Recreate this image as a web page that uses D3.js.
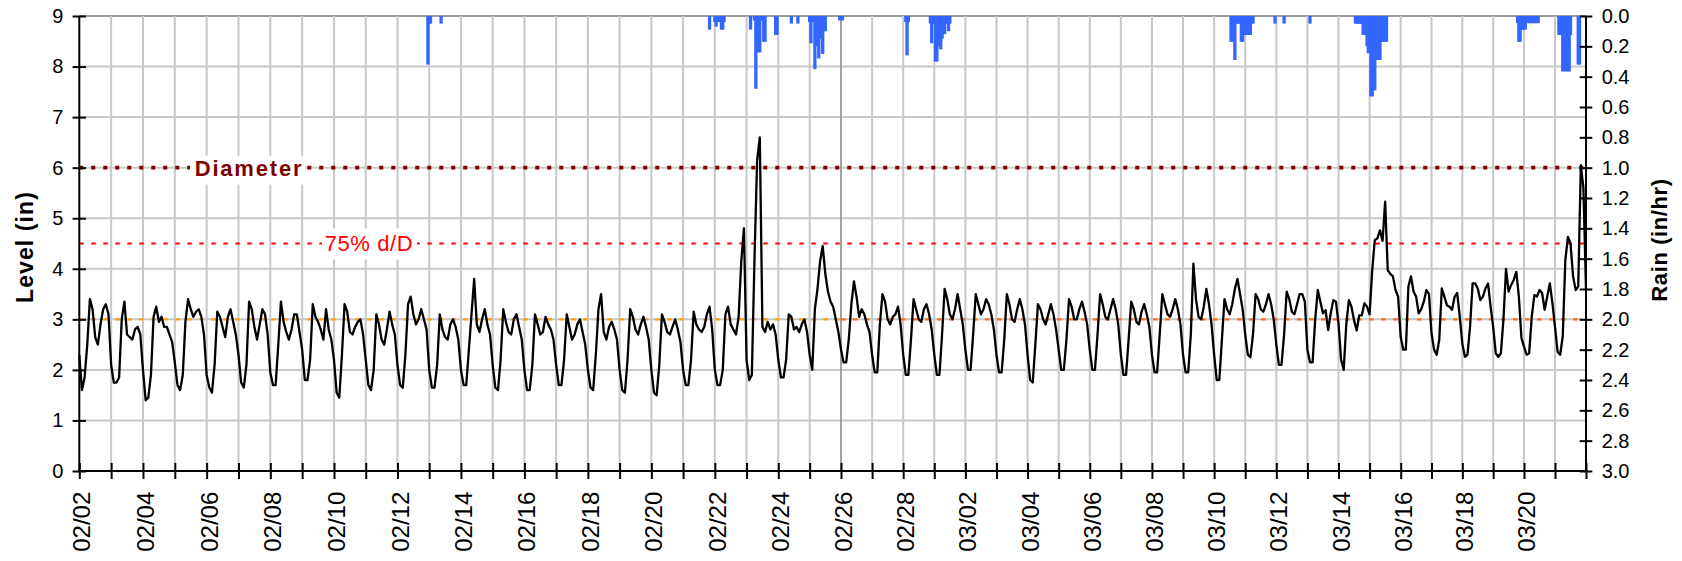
<!DOCTYPE html>
<html><head><meta charset="utf-8">
<script src="https://cdn.jsdelivr.net/npm/d3@7"></script>
<style>
body{margin:0;background:#fff;}
svg{display:block;font-family:"Liberation Sans",Arial,sans-serif;}
</style></head><body>
<svg id="chart" width="1682" height="561"></svg>
<script>
// ---------------- DATA ----------------
const levelStart = "2023-02-02 00";   // first reading
const levelStepHours = 2;              // readings every 2 hours
const levelValues = [
 /*02/02*/ 2.3,1.6,1.85,2.5,3.4,3.2,2.65,2.5,2.9,3.2,3.3,3.1,
 /*02/03*/ 2.1,1.75,1.75,1.85,3.0,3.35,2.7,2.65,2.6,2.8,2.85,2.7,
 /*02/04*/ 2.0,1.4,1.45,1.9,3.05,3.25,2.95,3.05,2.85,2.85,2.7,2.55,
 /*02/05*/ 2.15,1.7,1.6,1.9,2.95,3.4,3.2,3.05,3.15,3.2,3.05,2.7,
 /*02/06*/ 1.9,1.65,1.55,2.1,3.15,3.05,2.85,2.65,3.05,3.2,2.95,2.7,
 /*02/07*/ 2.3,1.75,1.65,2.1,3.35,3.2,2.85,2.6,2.9,3.2,3.1,2.7,
 /*02/08*/ 1.95,1.7,1.7,2.5,3.35,2.95,2.75,2.6,2.8,3.1,3.1,2.75,
 /*02/09*/ 2.4,1.8,1.8,2.2,3.3,3.05,2.95,2.8,2.6,3.2,2.8,2.6,
 /*02/10*/ 2.2,1.55,1.45,2.3,3.3,3.15,2.75,2.7,2.85,2.95,3.0,2.7,
 /*02/11*/ 2.2,1.7,1.6,2.0,3.1,2.9,2.6,2.5,2.8,3.15,2.9,2.7,
 /*02/12*/ 2.1,1.7,1.65,2.3,3.3,3.45,3.1,2.9,3.0,3.2,3.0,2.8,
 /*02/13*/ 2.0,1.65,1.65,2.1,3.1,2.8,2.65,2.6,2.9,3.0,2.85,2.6,
 /*02/14*/ 2.0,1.7,1.7,2.4,3.1,3.8,2.9,2.75,3.0,3.2,2.9,2.7,
 /*02/15*/ 2.1,1.65,1.6,2.2,3.2,2.95,2.75,2.7,3.0,3.1,2.85,2.6,
 /*02/16*/ 2.0,1.6,1.6,2.1,3.1,2.9,2.7,2.75,3.05,2.9,2.8,2.6,
 /*02/17*/ 2.1,1.7,1.7,2.2,3.1,2.85,2.6,2.7,2.9,3.0,2.75,2.5,
 /*02/18*/ 2.0,1.65,1.6,2.3,3.2,3.5,2.75,2.6,2.85,2.95,2.8,2.6,
 /*02/19*/ 2.0,1.6,1.55,2.2,3.2,3.05,2.8,2.7,2.9,3.05,2.85,2.6,
 /*02/20*/ 2.0,1.55,1.5,2.1,3.1,2.95,2.75,2.7,2.85,3.0,2.8,2.55,
 /*02/21*/ 2.0,1.7,1.7,2.2,3.15,2.9,2.8,2.75,2.85,3.1,3.25,2.8,
 /*02/22*/ 2.0,1.7,1.7,2.0,3.1,3.25,2.9,2.8,2.7,3.05,4.15,4.8,
 /*02/23*/ 2.2,1.8,1.9,4.2,6.15,6.6,2.85,2.75,2.95,2.8,2.9,2.7,
 /*02/24*/ 2.2,1.85,1.85,2.2,3.1,3.05,2.8,2.85,2.75,2.9,3.0,2.75,
 /*02/25*/ 2.3,2.0,3.2,3.6,4.15,4.45,3.9,3.55,3.35,3.25,3.0,2.75,
 /*02/26*/ 2.4,2.15,2.15,2.6,3.3,3.75,3.45,3.05,3.2,3.1,2.9,2.75,
 /*02/27*/ 2.3,1.95,1.95,2.9,3.5,3.35,3.0,2.9,3.05,3.1,3.25,2.9,
 /*02/28*/ 2.3,1.9,1.9,2.6,3.4,3.2,3.0,2.95,3.2,3.3,3.1,2.8,
 /*03/01*/ 2.3,1.9,1.9,2.7,3.6,3.4,3.1,3.0,3.2,3.5,3.2,2.9,
 /*03/02*/ 2.4,2.0,2.0,2.7,3.5,3.3,3.1,3.2,3.4,3.3,3.1,2.8,
 /*03/03*/ 2.3,1.95,1.95,2.6,3.5,3.3,3.0,2.95,3.2,3.4,3.2,2.9,
 /*03/04*/ 2.3,1.8,1.75,2.5,3.3,3.2,3.0,2.9,3.1,3.3,3.1,2.8,
 /*03/05*/ 2.4,2.0,2.0,2.6,3.4,3.25,3.0,3.0,3.2,3.35,3.15,2.9,
 /*03/06*/ 2.4,2.0,2.0,2.7,3.5,3.3,3.05,3.0,3.2,3.4,3.2,2.9,
 /*03/07*/ 2.3,1.9,1.9,2.6,3.35,3.2,2.95,2.9,3.15,3.3,3.1,2.85,
 /*03/08*/ 2.3,1.95,1.95,2.7,3.5,3.3,3.1,3.05,3.2,3.4,3.2,2.9,
 /*03/09*/ 2.3,1.95,1.95,2.7,4.1,3.4,3.05,3.0,3.25,3.6,3.3,2.9,
 /*03/10*/ 2.3,1.8,1.8,2.6,3.4,3.2,3.1,3.3,3.6,3.8,3.5,3.2,
 /*03/11*/ 2.7,2.3,2.25,2.7,3.5,3.4,3.2,3.15,3.3,3.5,3.3,3.0,
 /*03/12*/ 2.5,2.1,2.1,2.7,3.55,3.4,3.15,3.1,3.3,3.5,3.5,3.35,
 /*03/13*/ 2.4,2.15,2.15,3.0,3.58,3.35,3.12,3.18,2.79,3.12,3.38,3.35,
 /*03/14*/ 2.92,2.2,2.0,2.9,3.38,3.25,2.98,2.78,3.08,3.08,3.32,3.25,
 /*03/15*/ 3.1,3.97,4.57,4.6,4.76,4.55,5.33,3.97,3.9,3.85,3.58,3.45,
 /*03/16*/ 2.65,2.4,2.4,3.65,3.85,3.55,3.45,3.12,3.2,3.35,3.58,3.5,
 /*03/17*/ 2.72,2.4,2.3,2.59,3.61,3.45,3.28,3.25,3.19,3.45,3.52,3.05,
 /*03/18*/ 2.52,2.26,2.3,2.85,3.71,3.71,3.61,3.38,3.45,3.61,3.71,3.25,
 /*03/19*/ 2.85,2.33,2.26,2.33,3.0,4.0,3.55,3.68,3.78,3.94,3.45,2.63,
 /*03/20*/ 2.46,2.3,2.33,3.05,3.48,3.45,3.58,3.52,3.19,3.45,3.71,3.32,
 /*03/21*/ 2.85,2.36,2.3,2.66,4.17,4.63,4.5,3.85,3.58,3.65,6.05,5.6,
 /*03/22*/ 3.6
];

const rainTimes = [
 "2023-02-12 23","2023-02-13 00","2023-02-13 01","2023-02-13 09",
 "2023-02-21 20","2023-02-22 00","2023-02-22 01","2023-02-22 02","2023-02-22 03","2023-02-22 04","2023-02-22 05","2023-02-22 06","2023-02-22 07",
 "2023-02-23 03","2023-02-23 06","2023-02-23 07","2023-02-23 08","2023-02-23 09","2023-02-23 10","2023-02-23 11","2023-02-23 12","2023-02-23 13","2023-02-23 14","2023-02-23 22","2023-02-23 23",
 "2023-02-24 10","2023-02-24 15",
 "2023-02-25 00","2023-02-25 01","2023-02-25 02","2023-02-25 03","2023-02-25 04","2023-02-25 05","2023-02-25 06","2023-02-25 07","2023-02-25 08","2023-02-25 09","2023-02-25 10","2023-02-25 11","2023-02-25 12","2023-02-25 23","2023-02-26 01",
 "2023-02-28 02","2023-02-28 03","2023-02-28 04",
 "2023-02-28 21","2023-02-28 22","2023-02-28 23","2023-03-01 00","2023-03-01 01","2023-03-01 02","2023-03-01 03","2023-03-01 04","2023-03-01 05","2023-03-01 06","2023-03-01 07","2023-03-01 08","2023-03-01 09","2023-03-01 10","2023-03-01 11","2023-03-01 12",
 "2023-03-10 13","2023-03-10 14","2023-03-10 15","2023-03-10 16","2023-03-10 17","2023-03-10 18","2023-03-10 19","2023-03-10 20","2023-03-10 21","2023-03-10 22","2023-03-10 23","2023-03-11 00","2023-03-11 01","2023-03-11 02","2023-03-11 03","2023-03-11 04","2023-03-11 05","2023-03-11 06",
 "2023-03-11 23","2023-03-12 06","2023-03-13 02",
 "2023-03-14 13","2023-03-14 14","2023-03-14 15","2023-03-14 16","2023-03-14 17","2023-03-14 18","2023-03-14 19","2023-03-14 20","2023-03-14 21","2023-03-14 22","2023-03-14 23","2023-03-15 00","2023-03-15 01","2023-03-15 02","2023-03-15 03","2023-03-15 04","2023-03-15 05","2023-03-15 06","2023-03-15 07","2023-03-15 08","2023-03-15 09","2023-03-15 10","2023-03-15 11","2023-03-15 12","2023-03-15 13",
 "2023-03-19 19","2023-03-19 20","2023-03-19 21","2023-03-19 22","2023-03-19 23","2023-03-20 00","2023-03-20 01","2023-03-20 02","2023-03-20 03","2023-03-20 04","2023-03-20 05","2023-03-20 06","2023-03-20 07","2023-03-20 08","2023-03-20 09","2023-03-20 10","2023-03-20 11",
 "2023-03-21 03","2023-03-21 04","2023-03-21 05","2023-03-21 06","2023-03-21 07","2023-03-21 08","2023-03-21 09","2023-03-21 10","2023-03-21 11","2023-03-21 12","2023-03-21 18","2023-03-21 19"
];
const rainValues = [
 0.32,0.05,0.05,0.05,
 0.09,0.04,0.07,0.04,0.04,0.04,0.09,0.09,0.04,
 0.09,0.03,0.48,0.03,0.24,0.24,0.03,0.03,0.17,0.17,0.125,0.125,
 0.05,0.05,
 0.04,0.18,0.04,0.04,0.35,0.2,0.04,0.28,0.15,0.04,0.25,0.1,0.1,0.03,0.03,
 0.04,0.26,0.04,
 0.05,0.18,0.05,0.05,0.3,0.3,0.2,0.05,0.22,0.15,0.05,0.12,0.05,0.05,0.1,0.05,
 0.17,0.17,0.05,0.29,0.05,0.05,0.05,0.05,0.17,0.17,0.05,0.125,0.125,0.125,0.125,0.125,0.05,0.05,
 0.05,0.05,0.05,
 0.05,0.05,0.05,0.05,0.05,0.05,0.125,0.125,0.125,0.2,0.245,0.245,0.53,0.53,0.49,0.49,0.29,0.29,0.29,0.29,0.17,0.17,0.17,0.17,0.17,
 0.047,0.17,0.17,0.09,0.09,0.09,0.09,0.047,0.047,0.047,0.047,0.047,0.047,0.047,0.047,0.047,0.047,
 0.125,0.125,0.125,0.365,0.365,0.34,0.365,0.365,0.365,0.125,0.32,0.32
];

const levelTicks = [0,1,2,3,4,5,6,7,8,9];
const rainTicks = [0.0,0.2,0.4,0.6,0.8,1.0,1.2,1.4,1.6,1.8,2.0,2.2,2.4,2.6,2.8,3.0];
const xLabelDates = ["2023-02-02","2023-02-04","2023-02-06","2023-02-08","2023-02-10","2023-02-12","2023-02-14","2023-02-16","2023-02-18","2023-02-20","2023-02-22","2023-02-24","2023-02-26","2023-02-28","2023-03-02","2023-03-04","2023-03-06","2023-03-08","2023-03-10","2023-03-12","2023-03-14","2023-03-16","2023-03-18","2023-03-20"];
const xLabels = ["02/02","02/04","02/06","02/08","02/10","02/12","02/14","02/16","02/18","02/20","02/22","02/24","02/26","02/28","03/02","03/04","03/06","03/08","03/10","03/12","03/14","03/16","03/18","03/20"];
const refLevelNames = ["Diameter","75% d/D","Base"];
const refLevelValues = [6.0, 4.5, 3.0];
const baseSegmentDates = ["2023-02-02","2023-02-26","2023-03-22"];

// ---------------- CHART ----------------
const parseH = d3.utcParse("%Y-%m-%d %H");
const parseD = d3.utcParse("%Y-%m-%d");
const svg = d3.select("#chart");

const xAnchorDates = ["2023-02-02","2023-02-10","2023-02-24","2023-02-26","2023-03-16","2023-03-20","2023-03-22"].map(parseD);
const x = d3.scaleUtc().domain(xAnchorDates).range([79.3,334,778.3,841,1400.7,1524,1586]);
const y = d3.scaleLinear().domain([0,9]).range([471,16]);
const yr = d3.scaleLinear().domain([0,3]).range([16,471]);
const L = 79.3, R = 1586, T = 16, B = 471;

const t0 = parseH(levelStart);
const levelData = levelValues.map((v,i)=>({t:new Date(+t0 + i*levelStepHours*3600e3), v}));
const rainData = rainTimes.map((s,i)=>({t:parseH(s), v:rainValues[i]}));

const days = d3.utcDay.range(parseD("2023-02-02"), new Date(+parseD("2023-03-22")+1));
const darkDay = +parseD("2023-02-26");

// gridlines
const grid = svg.append("g");
grid.selectAll("line.h").data(levelTicks.filter(d=>d>0)).join("line")
  .attr("x1",L).attr("x2",R).attr("y1",d=>y(d)).attr("y2",d=>y(d))
  .attr("stroke",d=>d===9?"#9a9a9a":"#c8c8c8").attr("stroke-width",2);
grid.selectAll("line.v").data(days.slice(1,-1)).join("line")
  .attr("x1",d=>x(d)).attr("x2",d=>x(d)).attr("y1",T).attr("y2",B)
  .attr("stroke",d=>+d===darkDay?"#8c8c8c":"#c8c8c8")
  .attr("stroke-width",d=>+d===darkDay?1.6:2);

// rain bars
svg.append("g").selectAll("rect").data(rainData).join("rect")
  .attr("x",d=>x(d.t)-1.65).attr("width",3.3)
  .attr("y",yr(0)).attr("height",d=>yr(d.v)-yr(0))
  .attr("fill","#3366ff");

// reference lines
const refs = svg.append("g");
refs.append("line").attr("x1",L).attr("x2",R).attr("y1",y(refLevelValues[0])).attr("y2",y(refLevelValues[0]))
  .attr("stroke","#800000").attr("stroke-width",3.6).attr("stroke-dasharray","4,8");
refs.append("line").attr("x1",L).attr("x2",R).attr("y1",y(refLevelValues[1])).attr("y2",y(refLevelValues[1]))
  .attr("stroke","#ff0000").attr("stroke-width",2).attr("stroke-dasharray","4.5,7.5");
const baseSeg = baseSegmentDates.map(parseD);
const baseColors = ["#ffa200","#ff6a1a"];
[0,1].forEach(i=>{
  refs.append("line").attr("x1",x(baseSeg[i])).attr("x2",x(baseSeg[i+1]))
    .attr("y1",y(refLevelValues[2])).attr("y2",y(refLevelValues[2]))
    .attr("stroke",baseColors[i]).attr("stroke-width",2.4).attr("stroke-dasharray","4.5,7.5");
});

// labels with white boxes
refs.append("rect").attr("x",190).attr("y",y(6)-12).attr("width",115).attr("height",29).attr("fill","#fff");
refs.append("text").attr("x",249).attr("y",y(6)).attr("dy","0.36em").attr("text-anchor","middle")
  .attr("font-size",22).attr("font-weight","bold").attr("letter-spacing",1.8).attr("fill","#800000")
  .text(refLevelNames[0]);
refs.append("rect").attr("x",322).attr("y",y(4.5)-15).attr("width",95).attr("height",31).attr("fill","#fff");
refs.append("text").attr("x",369).attr("y",y(4.5)).attr("dy","0.36em").attr("text-anchor","middle")
  .attr("font-size",22).attr("letter-spacing",0.6).attr("fill","#ff0000")
  .text(refLevelNames[1]);

// level line
svg.append("path").datum(levelData)
  .attr("fill","none").attr("stroke","#000").attr("stroke-width",2.3).attr("stroke-linejoin","round")
  .attr("d", d3.line().x(d=>x(d.t)).y(d=>y(d.v)));

// axes
const gL = svg.append("g").attr("transform",`translate(${L},0)`)
  .call(d3.axisLeft(y).tickValues(levelTicks).tickSize(6.7).tickPadding(9.3).tickFormat(d3.format("d")));
gL.select(".domain").remove();
gL.selectAll(".tick line").attr("x1",6.7).attr("stroke","#000").attr("stroke-width",2);
gL.selectAll(".tick text").attr("font-size",20).attr("font-family","Liberation Sans, Arial, sans-serif").attr("fill","#000");

const gR = svg.append("g").attr("transform",`translate(${R},0)`)
  .call(d3.axisRight(yr).tickValues(rainTicks).tickSize(6.3).tickPadding(9.4).tickFormat(d3.format(".1f")));
gR.select(".domain").remove();
gR.selectAll(".tick line").attr("x1",-6.3).attr("stroke","#000").attr("stroke-width",2);
gR.selectAll(".tick text").attr("font-size",20).attr("font-family","Liberation Sans, Arial, sans-serif").attr("fill","#000");

const labelMap = new Map(xLabelDates.map((s,i)=>[+parseD(s), xLabels[i]]));
const gB = svg.append("g").attr("transform",`translate(0,${B})`)
  .call(d3.axisBottom(x).tickValues(days).tickSize(8).tickFormat(d=>labelMap.get(+d)||""));
gB.select(".domain").remove();
gB.selectAll(".tick line").attr("y1",-8).attr("stroke","#000").attr("stroke-width",2);
gB.selectAll(".tick text").attr("font-size",24).attr("font-family","Liberation Sans, Arial, sans-serif").attr("fill","#000")
  .attr("transform","rotate(-90)").attr("text-anchor","end").attr("x",-20.7).attr("y",0).attr("dy","0.44em");

// axis lines
const frame = svg.append("g").attr("stroke","#000").attr("stroke-width",2);
frame.append("line").attr("x1",L).attr("x2",L).attr("y1",T).attr("y2",B+1);
frame.append("line").attr("x1",R).attr("x2",R).attr("y1",T).attr("y2",B+1);
frame.append("line").attr("x1",L-1).attr("x2",R+1).attr("y1",B).attr("y2",B);

// axis titles
svg.append("text").attr("transform",`translate(32.7,247) rotate(-90)`).attr("text-anchor","middle")
  .attr("font-size",23).attr("font-weight","bold").attr("letter-spacing",1.1).attr("fill","#000").text("Level (in)");
svg.append("text").attr("transform",`translate(1666.7,240) rotate(-90)`).attr("text-anchor","middle")
  .attr("font-size",22).attr("font-weight","bold").attr("letter-spacing",0.6).attr("fill","#000").text("Rain (in/hr)");
</script>
</body></html>
